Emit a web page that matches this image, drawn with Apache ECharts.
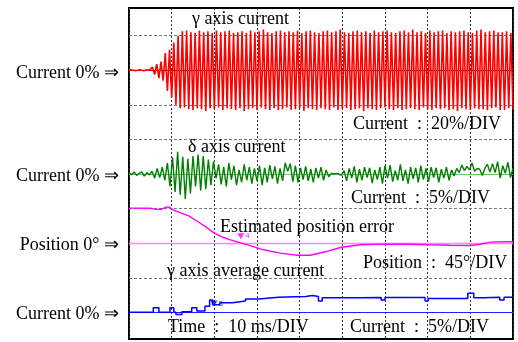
<!DOCTYPE html>
<html>
<head>
<meta charset="utf-8">
<script src="https://cdn.jsdelivr.net/npm/echarts@6/dist/echarts.min.js"></script>
<style>
html, body { margin: 0; padding: 0; background: #fff; }
#chart { width: 518px; height: 342px; }
</style>
</head>
<body>
<div id="chart"></div>
<script>
// time base: 10 ms/DIV, 9 divisions
var timeMax = 90;
var timeDiv = 10;

// gamma axis current (%), one sample every 0.5 ms from t = 0
var gammaStep = 0.5;
var gammaCurrent = [
    0, 0.2, 0, -0.2, 0, 0.3, 0, -0.3, 0.2, 0, 0.5,
    1.8, -2.5, 3.5, -4.5, 5, -6, 10, -12, 12, -16, 16, -20, 20, -22,
    22.5,-21.5,23,-22.5,22,-23,21.5,-22,23,-22.5,
    22,-23.5,22.5,-22,21.5,-22.5,23,-21.5,22,-23,
    22.5,-22,23,-22.5,21.5,-23,22,-22,22.5,-23.5,
    21.5,-22.5,23,-22,22,-23,22.5,-21.5,23.5,-22.5,
    22,-23,21.5,-22,22.5,-23,23,-22.5,22,-21.5,
    22.5,-23,22,-22.5,23,-22,21.5,-23.5,22.5,-22,
    23,-22.5,22,-23,21.5,-22,22.5,-22.5,23,-23,
    22,-21.5,22.5,-23,23.5,-22.5,22,-22,21.5,-23,
    22.5,-22.5,23,-22,22,-23.5,22.5,-22,21.5,-22.5,
    23,-23,22,-22,22.5,-21.5,23,-22.5,22,-23,
    21.5,-22,22.5,-23,23,-22.5,22,-22,23.5,-22.5,
    22,-23,22.5,-21.5,21.5,-22.5,23,-23,22,-22,
    22.5,-22.5,23,-22,21.5,-23,22.5,-22.5,22,-23.5,
    22.5,-22,23,-22.5,22,-23,21.5,-22,23,-22.5,
    23.5,-22.5,22,-23,22.5,-22,23,-21.5,22,-23,
    22,-23,22.5,-22,21.5,-22.5
];

// delta axis current (%), one sample every 0.6 ms from t = 0
var deltaStep = 0.6;
var deltaCurrent = [
    0.2,-0.1,0.3,-0.2,0.1,0.3,-0.3,0.2,-0.1,0.4,
    -0.6,0.8,-0.5,1.0,-0.9,
    1.6,-1.8,2.4,-2.6,3.2,-3.0,2.5,-3.6,2.2,-2.8,2.6,-1.8,2.8,-2.4,2.6,-2.2,2.1,-1.6,
    1.8,-0.6,1.4,-1.5,1.0,-1.8,1.6,-0.8,1.2,-1.6,0.6,-1.2,1.4,-0.9,1.0,-1.4,0.8,-1.0,
    1.2,-1.6,0.9,-1.2,1.3,-0.7,1.1,-1.4,0.8,-1.0,1.6,0.4,1.5,-1.1,1.2,
    -1.2,0.9,-0.8,1.1,-1.0,0.7,-1.2,0.9,-0.6,1.0,-0.9,0.6,-0.4,
    0.1,0,0.1,0,-0.2,
    0.5,-1.0,0.8,-0.6,1.1,-1.2,0.7,-0.9,1.0,-0.5,0.9,-1.3,0.6,-0.8,1.0,
    -1.4,1.2,-0.6,1.3,-1.1,0.5,-0.9,1.4,-1.0,0.6,-1.4,1.0,-0.7,0.9,-1.2,1.2,-0.8,
    0.8,-1.1,1.0,-0.5,0.9,-1.2,0.7,-0.6,1.0,-0.9,0.6,-0.3,0.8,
    0.2,1.3,0.5,1.1,0.6,1.6,0.4,0.8,0.7,-0.2,0.8,1.4,0.3,
    1.5,0.2,1.8,-0.6,1.2,0.1,1.7,-0.5,0.8
];

// estimated position error (deg)
var posTime = [0, 5.1, 6.3, 7.5, 8.6, 9.3, 10.3, 12.1, 14, 16.1, 18, 19.9, 22, 23.8, 27.8, 31.5,
    35.5, 39.5, 42.5, 46, 49.8, 54.2, 60, 65.9, 70.8, 75.2, 80.1, 82.2, 84.8, 88.1, 90];
var posError = [45.6, 45.4, 44, 44, 46.7, 47.3, 43.4, 39.5, 35.6, 28.2, 21.3, 13.5, 7.7, 4.4, -2.1, -8.6,
    -12.9, -15.7, -15.7, -11.2, -5.3, -2.1, -1.2, -1.4, -2.1, -2.7, -3.0, -1.4, 1.4, 1.8, 1.8];

// gamma axis average current (%), held from each time to the next
var avgTime = [0, 5.7, 7.0, 9.6, 10.5, 11.0, 12.4, 14.7, 15.9, 17.8, 18.9, 19.6, 21.3, 24.3, 27.3, 30.4,
    35.0, 41.4, 43.0, 44.4, 45.3, 53.5, 59.1, 60.0, 69.4, 70.1, 79.4, 80.8, 83.2, 86.9, 87.9, 90];
var avgCurrent = [0, 0.65, 0, 0.65, 0, -0.3, 0.1, 0.65, 0.2, 0.9, 1.8, 1.1, 1.4, 1.65, 1.95, 2.2,
    2.3, 2.45, 2.3, 1.65, 2.1, 2.15, 1.8, 2.15, 1.65, 2.0, 2.75, 2.1, 2.2, 1.8, 2.2, 2.2];

// cursors: [time ms, value]
var cursorAvg = [19.9, 1.3];
var cursorPos = [26.2, 9];

// screen divisions shown (bottom, top); dashed grid where no trace zero sits
var divMin = -0.77;
var divMax = 8.8;
var divLines = [1, 3, 5, 6, 8];

function sampled(values, step) {
    return values.map(function (v, i) { return [i * step, v]; });
}
function paired(t, v) {
    return t.map(function (x, i) { return [x, v[i]]; });
}
// per trace: units per division and the division where 0 sits
function traceAxis(perDiv, zeroDiv) {
    return {type: 'value', show: false, min: (divMin - zeroDiv) * perDiv, max: (divMax - zeroDiv) * perDiv};
}
function zeroLine(axisIndex, color, width) {
    return {
        type: 'line', yAxisIndex: axisIndex, data: [], z: 1, silent: true,
        markLine: {
            silent: true, symbol: ['none', 'none'], label: {show: false}, z: 1,
            lineStyle: {type: 'solid', color: color, width: width},
            data: [{yAxis: 0}]
        }
    };
}
function txt(s, x, y, align) {
    return {
        type: 'text', x: x, y: y, z: 10,
        style: {
            text: s, font: '18px "Liberation Serif", "Times New Roman", serif', fill: '#000',
            align: align || 'left', verticalAlign: 'middle',
            textAlign: align || 'left', textVerticalAlign: 'middle'
        }
    };
}

var chart = echarts.init(document.getElementById('chart'));
var option = {
    animation: false,
    grid: {left: 129, top: 8, width: 384, height: 331, show: true, borderColor: '#000', borderWidth: 2},
    xAxis: {
        type: 'value', min: 0, max: timeMax, interval: timeDiv,
        axisLine: {show: false}, axisTick: {show: false}, axisLabel: {show: false},
        splitLine: {show: true, lineStyle: {type: [2, 2], color: '#333', width: 1}}
    },
    yAxis: [
        {type: 'value', show: false, min: divMin, max: divMax, splitLine: {show: false}},
        traceAxis(20, 7),
        traceAxis(5, 4),
        traceAxis(45, 2),
        traceAxis(5, 0)
    ],
    graphic: [
        txt('Current 0% \u21D2', 119, 73, 'right'),
        txt('Current 0% \u21D2', 119, 176, 'right'),
        txt('Position 0\u00B0 \u21D2', 119, 245, 'right'),
        txt('Current 0% \u21D2', 119, 314, 'right'),
        txt('\u03B3 axis current', 192, 19),
        txt('Current  :  20%/DIV', 353, 124),
        txt('\u03B4 axis current', 188, 147),
        txt('Current  :  5%/DIV', 351, 198),
        txt('Estimated position error', 220, 227),
        txt('Position  :  45\u00B0/DIV', 363, 263),
        txt('\u03B3 axis average current', 167, 271),
        txt('Time  :  10 ms/DIV', 168, 327),
        txt('Current  :  5%/DIV', 350, 327)
    ],
    series: [
        {
            type: 'line', yAxisIndex: 0, data: [], z: 1, silent: true,
            markLine: {
                silent: true, symbol: ['none', 'none'], label: {show: false}, z: 1,
                lineStyle: {type: [3, 2], color: '#777', width: 1},
                data: divLines.map(function (d) { return {yAxis: d}; })
            }
        },
        zeroLine(2, '#66c266', 1.2),
        zeroLine(3, '#ff88ff', 1.3),
        {
            type: 'line', yAxisIndex: 1, data: sampled(gammaCurrent, gammaStep), z: 2,
            showSymbol: false, symbol: 'none', lineStyle: {color: '#ff0000', width: 1.6}
        },
        {
            type: 'line', yAxisIndex: 2, data: sampled(deltaCurrent, deltaStep), z: 2,
            showSymbol: false, symbol: 'none', lineStyle: {color: '#008000', width: 1.4}
        },
        {
            type: 'line', yAxisIndex: 3, data: paired(posTime, posError), z: 2,
            showSymbol: false, symbol: 'none', lineStyle: {color: '#ff00ff', width: 1.4}
        },
        {
            type: 'line', yAxisIndex: 4, data: paired(avgTime, avgCurrent), z: 2, step: 'end',
            showSymbol: false, symbol: 'none', lineStyle: {color: '#0000ff', width: 1.5}
        },
        zeroLine(1, '#9a0000', 1.2),
        zeroLine(4, '#2020ff', 1.2),
        {
            type: 'scatter', yAxisIndex: 4, data: [cursorAvg], z: 5,
            symbol: 'triangle', symbolRotate: 180, symbolSize: [7, 6], itemStyle: {color: '#0000ff'},
            label: {show: true, position: 'right', distance: 1, formatter: '3', fontSize: 8, color: '#0000ff'}
        },
        {
            type: 'scatter', yAxisIndex: 3, data: [cursorPos], z: 5,
            symbol: 'triangle', symbolRotate: 180, symbolSize: [7, 6], itemStyle: {color: '#ff00ff'},
            label: {show: true, position: 'right', distance: 1, formatter: '4', fontSize: 8, color: '#ff00ff'}
        }
    ]
};
chart.setOption(option);
window.addEventListener('resize', function () { chart.resize(); });
</script>
</body>
</html>
